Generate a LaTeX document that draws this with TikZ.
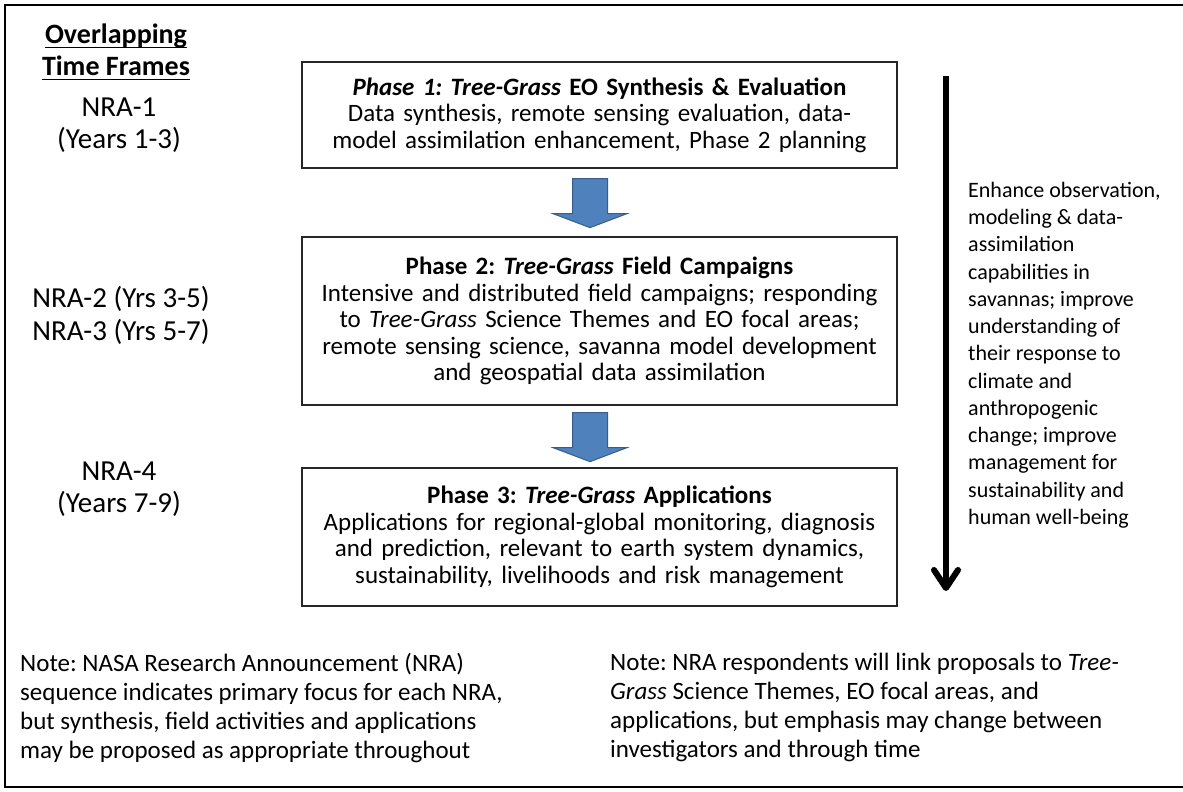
\documentclass[tikz,border=0pt]{standalone}
\usepackage{fontspec}
\setmainfont{Carlito}
\usetikzlibrary{arrows.meta,positioning}
\definecolor{arrowblue}{HTML}{4F81BD}
\definecolor{arrowedge}{HTML}{385D8A}
\newcommand\ulword[1]{\setbox0\hbox{#1}\rlap{\rule[-5pt]{\wd0}{1.6pt}}#1}
\frenchspacing
\begin{document}
\begin{tikzpicture}[x=1pt,y=-1pt,
  phasebox/.style={draw=black!85, line width=1.3pt, minimum width=595pt,
    inner sep=2pt, text width=591pt, align=center,
    font=\fontsize{25}{26.5}\selectfont},
  nralabel/.style={align=center, font=\fontsize{29}{31.5}\selectfont},
  blockarrow/.style={fill=arrowblue, draw=arrowedge, line width=1pt},
  notetext/.style={anchor=north west, align=left, inner sep=0pt,
    font=\fontsize{25}{29}\selectfont}]
\useasboundingbox (0,0) rectangle (1183,792);
% outer frame
\draw[line width=1.6pt] (1190,5) -- (5,5) -- (5,787) -- (1190,787);

% phases
\node[phasebox, minimum height=106pt] (p1) at (599.5,115)
  {\textbf{\textit{Phase 1: Tree-Grass} EO Synthesis \& Evaluation}\\
   Data synthesis, remote sensing evaluation, data-\\
   model assimilation enhancement, Phase 2 planning};
\node[phasebox, minimum height=168pt] (p2) at (599.5,321)
  {\textbf{Phase 2: \textit{Tree-Grass} Field Campaigns}\\
   Intensive and distributed field campaigns; responding\\
   to \textit{Tree-Grass} Science Themes and EO focal areas;\\
   remote sensing science, savanna model development\\
   and geospatial data assimilation};
\node[phasebox, minimum height=138pt] (p3) at (599.5,537)
  {\textbf{Phase 3: \textit{Tree-Grass} Applications}\\
   Applications for regional-global monitoring, diagnosis\\
   and prediction, relevant to earth system dynamics,\\
   sustainability, livelihoods and risk management};

% block arrows between phases
\path (p1.south) ++(-9.5,10) coordinate (a1);
\path (p2.south) ++(-9.5,7) coordinate (a2);
\foreach \a in {a1,a2}
  \draw[blockarrow] (\a) ++(-17.5,0) -- ++(35,0) -- ++(0,35) -- ++(19.5,0)
    -- ++(-37,14) -- ++(-37,-14) -- ++(19.5,0) -- cycle;

% time frames
\node[nralabel, font=\bfseries\fontsize{28}{32}\selectfont] (head) at (116,52)
  {\ulword{Overlapping}\\\ulword{Time Frames}};
\node[nralabel] (nra1) at (119,125) {NRA-1\\(Years 1-3)};
\node[nralabel, font=\fontsize{29}{33}\selectfont] (nra23) at (121,315)
  {NRA-2 (Yrs 3-5)\\NRA-3 (Yrs 5-7)};
\node[nralabel] (nra4) at (119,489) {NRA-4\\(Years 7-9)};

% overall direction
\coordinate (top) at (946,76);
\coordinate (bottom) at (946,591);
\draw[line width=6pt, -{Straight Barb[length=18pt,width=24pt,line cap=round,line join=round]}]
  (top) -- (bottom);
\node[anchor=north west, align=left, inner sep=0pt,
  font=\fontsize{22}{27.25}\selectfont] (goal) at (968,182)
  {Enhance observation,\\modeling \& data-\\assimilation\\capabilities in\\
   savannas; improve\\understanding of\\their response to\\climate and\\
   anthropogenic\\change; improve\\management for\\sustainability and\\
   human well-being};

% notes
\node[notetext] (note1) at (20,653)
  {Note: NASA Research Announcement (NRA)\\
   sequence indicates primary focus for each NRA,\\
   but synthesis, field activities and applications\\
   may be proposed as appropriate throughout};
\node[notetext] (note2) at (610,653)
  {Note: NRA respondents will link proposals to \textit{Tree-}\\
   \textit{Grass} Science Themes, EO focal areas, and\\
   applications, but emphasis may change between\\
   investigators and through time};
\end{tikzpicture}
\end{document}
